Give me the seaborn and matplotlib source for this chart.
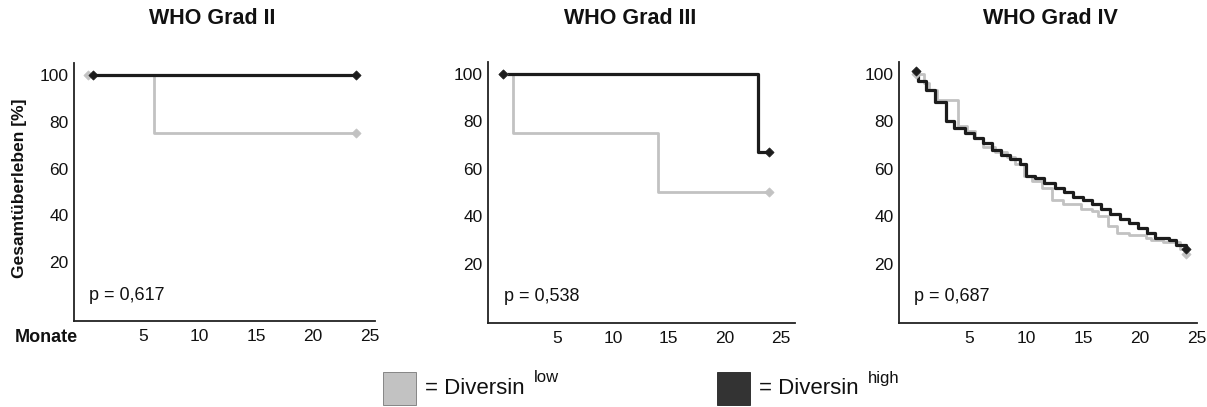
import matplotlib
matplotlib.use("Agg")
import matplotlib.pyplot as plt
import seaborn as sns
import pandas as pd
from matplotlib.patches import Rectangle

sns.set_theme(style="white")
plt.rcParams['font.family'] = ['Liberation Sans', 'DejaVu Sans']

# ---------------- data ----------------
titles = ["WHO Grad II", "WHO Grad III", "WHO Grad IV"]
p_values = ["p = 0,617", "p = 0,538", "p = 0,687"]
x_ticks = [5, 10, 15, 20, 25]
y_ticks = [20, 40, 60, 80, 100]

g2_low_t = [0.1, 6.0, 23.8]
g2_low_s = [100, 75, 75]
g2_high_t = [0.6, 23.8]
g2_high_s = [100, 100]

g3_low_t = [0.1, 1.05, 14.0, 24.0]
g3_low_s = [100, 75, 50, 50]
g3_high_t = [0.1, 23.0, 24.0]
g3_high_s = [100, 67, 67]

g4_low_t = [0.3, 1.0, 1.5, 2.2, 4.0, 4.8, 5.5, 6.2, 7.3, 8.3, 9.0, 9.8, 10.5,
            11.4, 12.3, 13.2, 14.8, 15.8, 16.3, 17.2, 18.0, 19.0, 20.5, 21.0,
            22.0, 23.5, 24.0]
g4_low_s = [100, 96, 93, 89, 78, 76, 73, 69, 67, 65, 62, 57, 55,
            52, 47, 45, 43, 42, 40, 36, 33, 32, 31, 30,
            29, 26, 24]
g4_high_t = [0.3, 0.5, 1.2, 2.0, 3.0, 3.7, 4.6, 5.4, 6.2, 7.0, 7.8, 8.6, 9.5,
             10.0, 10.8, 11.6, 12.5, 13.3, 14.1, 15.0, 15.8, 16.6, 17.4, 18.2,
             19.0, 19.8, 20.6, 21.3, 22.5, 23.2, 24.0]
g4_high_s = [101, 97, 93, 88, 80, 77, 75, 73, 71, 68, 66, 64, 62,
             57, 56, 54, 52, 50, 48, 47, 45, 43, 41, 39,
             37, 35, 33, 31, 30, 28, 26]

panels = [
    (g2_low_t, g2_low_s, g2_high_t, g2_high_s),
    (g3_low_t, g3_low_s, g3_high_t, g3_high_s),
    (g4_low_t, g4_low_s, g4_high_t, g4_high_s),
]

low_color = "#c2c2c2"
high_color = "#1c1c1c"

W, H = 1207, 407
fig = plt.figure(figsize=(W / 100, H / 100), dpi=100)

# axes boxes in pixels: left, right, top, bottom
boxes = [(74, 375, 63, 321), (488, 795, 62, 323), (899, 1197, 62, 323)]
xlims = [(-1.1, 25.5), (-1.2, 26.3), (-1.15, 24.8)]
title_x = [212, 630, 1050]

for i, (box, panel) in enumerate(zip(boxes, panels)):
    l, r, t, b = box
    ax = fig.add_axes([l / W, 1 - b / H, (r - l) / W, (b - t) / H])
    lt, ls, ht, hs = panel
    df_low = pd.DataFrame({"t": lt, "s": ls})
    df_high = pd.DataFrame({"t": ht, "s": hs})
    sns.lineplot(data=df_low, x="t", y="s", ax=ax, color=low_color, lw=2.0,
                 drawstyle="steps-post", estimator=None, sort=False)
    sns.lineplot(data=df_high, x="t", y="s", ax=ax, color=high_color, lw=2.3,
                 drawstyle="steps-post", estimator=None, sort=False)
    # censor marks at start/end
    for df, c in ((df_low, low_color), (df_high, high_color)):
        ends = df.iloc[[0, -1]]
        sns.scatterplot(data=ends, x="t", y="s", ax=ax, color=c, marker="D",
                        s=22, edgecolor=c, linewidth=0.5, zorder=5,
                        clip_on=False)
    ax.set_xlim(*xlims[i])
    ax.set_ylim(-5, 105)
    ax.set_xticks(x_ticks)
    ax.set_xticklabels([str(v) for v in x_ticks])
    ax.set_yticks(y_ticks)
    ax.set_yticklabels([str(v) for v in y_ticks])
    ax.tick_params(axis="both", length=0, labelsize=12.5, colors="#111111")
    ax.tick_params(axis="x", pad=6)
    ax.tick_params(axis="y", pad=4)
    ax.set_xlabel("")
    ax.set_ylabel("")
    for sp in ("top", "right"):
        ax.spines[sp].set_visible(False)
    for sp in ("left", "bottom"):
        ax.spines[sp].set_color("#222222")
        ax.spines[sp].set_linewidth(1.3)
    ax.text(0.2, 6, p_values[i], fontsize=13, ha="left", va="center",
            color="#111111")
    fig.text(title_x[i] / W, 1 - 19 / H, titles[i], fontsize=15.5,
             fontweight="bold", ha="center", va="center", color="#111111")

fig.text(20 / W, 1 - 188 / H, "Gesamtüberleben [%]", rotation=90,
         fontsize=12.5, fontweight="bold", ha="center", va="center",
         color="#111111")
fig.text(46 / W, 1 - 337 / H, "Monate", fontsize=13, fontweight="bold",
         ha="center", va="center", color="#111111")

# legend
legend_items = [(383, low_color, "low"), (717, "#333333", "high")]
for x0, c, sup in legend_items:
    fig.patches.append(Rectangle((x0 / W, 1 - 405 / H), 33 / W, 33 / H,
                                 transform=fig.transFigure, facecolor=c,
                                 edgecolor="#777777" if c == low_color else "#222222",
                                 linewidth=0.6))
    fig.text((x0 + 42) / W, 1 - 389 / H, "= Diversin", fontsize=16,
             ha="left", va="center", color="#111111")
    fig.text((x0 + 151) / W, 1 - 378 / H, sup, fontsize=12,
             ha="left", va="center", color="#111111")

fig.savefig("out.png", dpi=100, facecolor="white")
